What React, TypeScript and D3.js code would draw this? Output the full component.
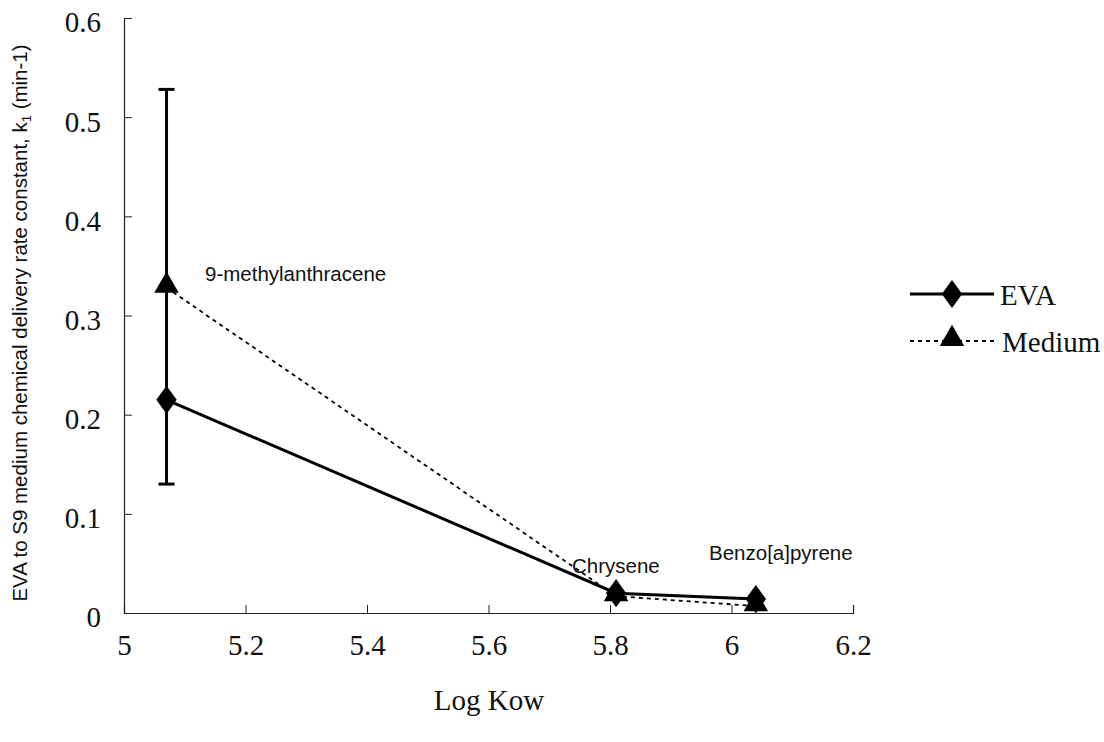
import React, { useEffect, useRef } from 'react';
import * as d3 from 'd3';

// Log Kow for the three chemicals
const logKow = [5.07, 5.81, 6.04];
const chemicals = ['9-methylanthracene', 'Chrysene', 'Benzo[a]pyrene'];
const evaValues = [0.215, 0.02, 0.014];
const mediumValues = [0.328, 0.017, 0.007];
// error bar at the first point
const errLow = [0.13];
const errHigh = [0.528];
const xTicks = [5, 5.2, 5.4, 5.6, 5.8, 6, 6.2];
const yTicks = [0, 0.1, 0.2, 0.3, 0.4, 0.5, 0.6];

const App = () => {
  const svgRef = useRef<SVGSVGElement>(null);
  const width = 1104;
  const height = 742;

  useEffect(() => {
    const svg = d3.select(svgRef.current);
    svg.selectAll('*').remove();

    const x = d3.scaleLinear().domain([5, 6.2]).range([124, 853]);
    const y = d3.scaleLinear().domain([0, 0.6]).range([613, 18]);
    const serif = '"Liberation Serif", "Times New Roman", serif';
    const sans = '"Liberation Sans", Arial, sans-serif';

    // axes
    const xAxis = svg.append('g').attr('transform', `translate(0,${y(0)})`)
      .call(d3.axisBottom(x).tickValues(xTicks).tickSize(-8).tickPadding(21)
        .tickFormat(d => d3.format('')(+d)));
    const yAxis = svg.append('g').attr('transform', `translate(${x(5)},0)`)
      .call(d3.axisLeft(y).tickValues(yTicks).tickSize(-8).tickPadding(23)
        .tickFormat(d => d3.format('')(+d)));
    [xAxis, yAxis].forEach(g => {
      g.select('.domain').attr('stroke', '#222').attr('stroke-width', 1.2);
      g.selectAll('.tick line').attr('stroke', '#222');
      g.selectAll('.tick text').attr('font-family', serif).attr('font-size', 29).attr('fill', '#111');
    });
    xAxis.select('.tick line').remove();
    yAxis.select('.tick line').remove();
    yAxis.selectAll('.tick text').attr('dy', '0.48em');

    // error bar
    const ex = x(logKow[0]);
    const eb = svg.append('g').attr('stroke', '#000').attr('stroke-width', 3);
    eb.append('line').attr('x1', ex).attr('x2', ex).attr('y1', y(errHigh[0])).attr('y2', y(errLow[0]));
    eb.append('line').attr('x1', ex - 8).attr('x2', ex + 8).attr('y1', y(errHigh[0])).attr('y2', y(errHigh[0]));
    eb.append('line').attr('x1', ex - 8).attr('x2', ex + 8).attr('y1', y(errLow[0])).attr('y2', y(errLow[0]));

    const line = d3.line<number>().x((d, i) => x(logKow[i])).y(d => y(d));

    svg.append('path').datum(mediumValues).attr('fill', 'none').attr('stroke', '#000')
      .attr('stroke-width', 1.8).attr('stroke-dasharray', '4,4').attr('d', line);
    svg.append('path').datum(evaValues).attr('fill', 'none').attr('stroke', '#000')
      .attr('stroke-width', 3).attr('d', line);

    const diamond = d3.symbol().type(d3.symbolDiamond).size(230);
    const triangle = d3.symbol().type(d3.symbolTriangle).size(260);

    svg.selectAll('.eva-pt').data(evaValues).enter().append('path')
      .attr('d', diamond).attr('fill', '#000')
      .attr('transform', (d, i) => `translate(${x(logKow[i])},${y(d)}) scale(1.25,1)`);
    svg.selectAll('.med-pt').data(mediumValues).enter().append('path')
      .attr('d', triangle).attr('fill', '#000')
      .attr('transform', (d, i) => `translate(${x(logKow[i])},${y(d) - 2})`);

    // chemical labels
    const labelPos = [[205, 281], [572, 573], [709, 560]];
    chemicals.forEach((c, i) => {
      svg.append('text').attr('x', labelPos[i][0]).attr('y', labelPos[i][1])
        .attr('font-family', sans).attr('font-size', 20.5).attr('fill', '#111').text(c);
    });

    // axis titles
    svg.append('text').attr('x', 489).attr('y', 710).attr('text-anchor', 'middle')
      .attr('font-family', serif).attr('font-size', 29).attr('fill', '#111').text('Log Kow');
    const yt = svg.append('text').attr('transform', 'translate(27,323) rotate(-90)')
      .attr('text-anchor', 'middle').attr('font-family', sans).attr('font-size', 20.5).attr('fill', '#111');
    yt.append('tspan').text('EVA to S9 medium chemical delivery rate constant, k');
    yt.append('tspan').attr('font-size', 13).attr('dy', 4).text('1');
    yt.append('tspan').attr('dy', -4).text(' (min-1)');

    // legend
    const lg = svg.append('g');
    lg.append('line').attr('x1', 910).attr('x2', 994).attr('y1', 294).attr('y2', 294)
      .attr('stroke', '#000').attr('stroke-width', 3);
    lg.append('path').attr('d', diamond).attr('fill', '#000')
      .attr('transform', 'translate(952,294) scale(1.25,1)');
    lg.append('text').attr('x', 1000).attr('y', 305).attr('font-family', serif)
      .attr('font-size', 29).attr('fill', '#111').text('EVA');
    lg.append('line').attr('x1', 910).attr('x2', 994).attr('y1', 341).attr('y2', 341)
      .attr('stroke', '#000').attr('stroke-width', 1.8).attr('stroke-dasharray', '4,4');
    lg.append('path').attr('d', triangle).attr('fill', '#000')
      .attr('transform', 'translate(952,339)');
    lg.append('text').attr('x', 1002).attr('y', 352).attr('font-family', serif)
      .attr('font-size', 29).attr('fill', '#111').text('Medium');
  }, []);

  return (
    <svg ref={svgRef} width={width} height={height}
      style={{ position: 'absolute', left: 0, top: 0, background: '#fff' }} />
  );
};

export default App;
